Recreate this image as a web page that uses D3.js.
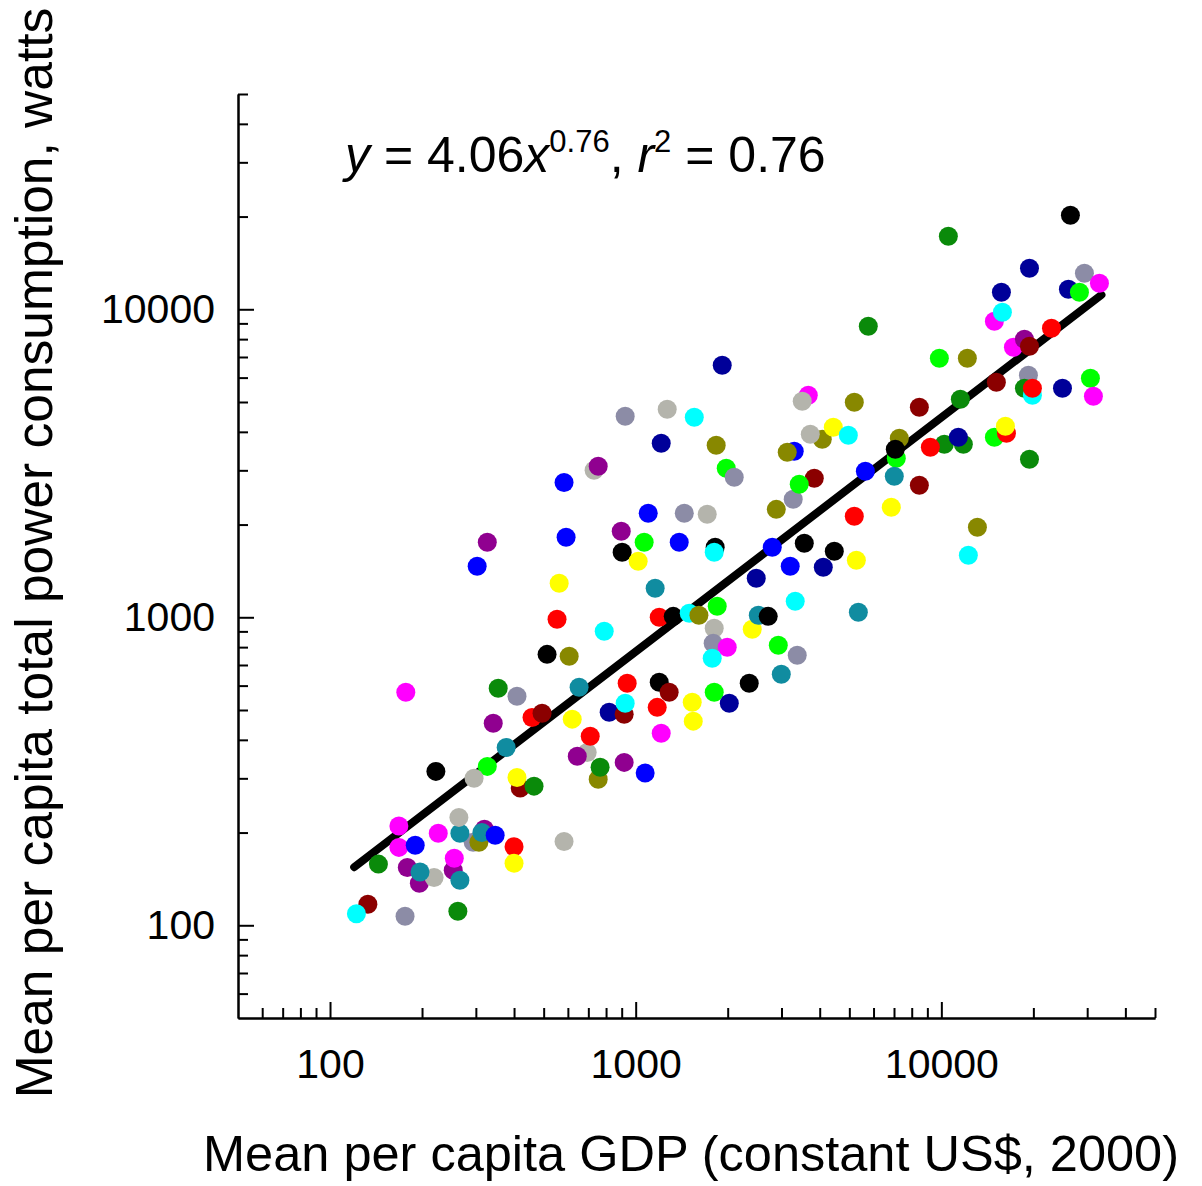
<!DOCTYPE html>
<html>
<head>
<meta charset="utf-8">
<script src="https://cdn.jsdelivr.net/npm/d3@7"></script>
<style>
  body { margin: 0; background: #fff; }
  text { font-family: "Liberation Sans", Arial, sans-serif; }
</style>
</head>
<body>
<div id="chart"></div>
<script>
// colour of each country group
const palette = {
  red: "#ff0000", darkred: "#8b0000", green: "#0a8a0a", lime: "#00ff00",
  blue: "#0000ff", navy: "#000099", cyan: "#00ffff", magenta: "#ff00ff",
  purple: "#900090", yellow: "#ffff00", olive: "#888800", teal: "#108ca0",
  black: "#000000", greyblue: "#8c8ca6", lightgrey: "#b4b4ac"
};

// mean per capita GDP (constant US$, 2000), in drawing order
const gdp = [
  133, 122, 176, 262, 144, 179, 196, 219, 197, 253, 255, 266, 168, 190, 168, 226,
  294, 307, 320, 266, 314, 347, 400, 400, 264, 222, 327, 296, 419, 409, 465, 377,
  342, 458, 494, 177, 355, 409, 583,
  513, 606, 653, 620, 553, 789, 562, 1194, 1327, 1497, 1610, 1158, 938, 1194, 1287, 819,
  917, 924, 1176, 1531, 1543, 1212, 694, 644, 710, 917, 754, 765, 1074, 303, 327, 583,
  592, 897, 1066, 903, 1019, 1388, 1099, 1442, 1714, 731, 754, 924, 1268, 1555, 1212, 1834,
  1978, 2101, 1919, 1820, 1807, 1848, 1807, 1793, 1993, 1780, 1807, 2024, 2352, 2406, 2518, 2714,
  2480, 3326, 2928, 3377, 2995,
  3670, 3507, 5191, 4078, 3726, 4431, 4962, 3301, 3132, 3276, 3840, 3428, 2884, 5641, 5191, 2798,
  3561, 4465, 5271, 3203, 4109, 5351,
  5768, 9851, 12164, 8472, 11540, 15136, 7286, 7123, 7069, 7015, 8472, 6858, 10227, 11804, 11366, 9204,
  14911, 16330, 16200, 19420, 13120, 12256, 10541, 26440, 19420, 15720, 14911, 15840, 29380, 26040, 28300, 32900,
  22920, 17210, 18700, 19420, 19270, 18700, 19860, 19860, 24900, 30740, 31440
];

// mean per capita total power consumption, watts
const watts = [
  117, 109, 107, 111, 158, 154, 137, 143, 149, 151, 165, 140, 179, 182, 210, 199,
  186, 186, 205, 199, 200, 196, 180, 159, 224, 316, 328, 300, 279, 302, 283, 378,
  453, 473, 488, 571, 588, 554, 187,
  758, 747, 593, 467, 985, 901, 1290, 1000, 1007, 1030, 1015, 1243, 611, 615, 571, 492,
  484, 526, 510, 530, 460, 420, 364, 354, 411, 338, 298, 326, 312, 1464, 1752, 2740,
  1818, 1902, 1752, 1626, 1520, 1752, 2176, 2176, 2160, 3001, 3092, 4494, 4735, 4461, 3671, 3617,
  3046, 2849, 6579, 1688, 1626, 1086, 921, 823, 799, 736, 571, 526, 611, 914, 1015, 1007,
  1338, 1127, 811, 753, 653,
  5258, 5027, 4990, 3784, 3928, 4140, 3898, 3459, 3433, 2416, 2828, 2703, 2241, 2979, 2128, 1688,
  1739, 1638, 1531, 1464, 1453, 1038,
  8807, 6932, 6932, 4806, 5103, 5794, 3812, 3282, 3511, 2870, 2683, 2275, 3644, 3644, 3840, 3563,
  3840, 3957, 4170, 3258, 1960, 1590, 17260, 20200, 13590, 11360, 9141, 9780, 13090, 11610, 11360, 12150,
  8676, 7527, 7990, 7585, 6106, 5541, 5258, 5541, 5541, 5970, 5219
];

// colour group of each point
const group = [
  "darkred", "cyan", "greyblue", "green", "green", "purple", "purple", "lightgrey", "teal", "purple", "magenta", "teal", "magenta", "blue", "magenta", "magenta",
  "greyblue", "olive", "purple", "teal", "teal", "blue", "red", "yellow", "lightgrey", "black", "lime", "lightgrey", "darkred", "yellow", "green", "teal",
  "purple", "red", "darkred", "magenta", "green", "greyblue", "lightgrey",
  "black", "olive", "teal", "yellow", "red", "cyan", "yellow", "red", "black", "cyan", "olive", "teal", "red", "black", "darkred", "navy",
  "darkred", "cyan", "red", "yellow", "yellow", "magenta", "lightgrey", "purple", "red", "purple", "olive", "green", "blue", "blue", "purple", "blue",
  "blue", "purple", "lime", "black", "yellow", "blue", "blue", "greyblue", "lightgrey", "lightgrey", "purple", "greyblue", "lightgrey", "cyan", "navy", "olive",
  "lime", "greyblue", "navy", "black", "cyan", "lime", "lightgrey", "greyblue", "magenta", "cyan", "lime", "navy", "black", "yellow", "teal", "black",
  "navy", "cyan", "lime", "greyblue", "teal",
  "magenta", "lightgrey", "olive", "olive", "lightgrey", "yellow", "cyan", "blue", "olive", "greyblue", "darkred", "lime", "olive", "blue", "red", "blue",
  "black", "black", "yellow", "blue", "navy", "teal",
  "green", "lime", "olive", "darkred", "green", "darkred", "olive", "lime", "black", "teal", "darkred", "yellow", "green", "green", "navy", "red",
  "lime", "red", "yellow", "green", "olive", "cyan", "green", "black", "navy", "navy", "magenta", "cyan", "greyblue", "navy", "lime", "magenta",
  "red", "magenta", "purple", "darkred", "greyblue", "green", "cyan", "red", "navy", "lime", "magenta"
];

// power-law fit y = a x^b and the GDP span it is drawn over
const fitA = 4.06;
const fitB = 0.76;
const fitSpan = [120, 33400];

const majorTicks = [100, 1000, 10000];
const minorTicks = [60, 70, 80, 90, 200, 300, 400, 500, 600, 700, 800, 900,
  2000, 3000, 4000, 5000, 6000, 7000, 8000, 9000, 20000, 30000, 40000, 50000];

const width = 1202;
const height = 1186;
const plotLeft = 238, plotRight = 1155, plotTop = 94, plotBottom = 1018;

const svg = d3.select("#chart")
  .append("svg")
  .attr("width", width)
  .attr("height", height);

const x = d3.scaleLog().domain([50, 50000]).range([plotLeft, plotRight]);
const y = d3.scaleLog().domain([50, 50000]).range([plotBottom, plotTop]);

// fit line goes under the dots
const fitLine = d3.line()
  .x(d => x(d))
  .y(d => y(fitA * Math.pow(d, fitB)));

svg.append("path")
  .datum(fitSpan)
  .attr("d", fitLine)
  .style("fill", "none")
  .style("stroke", "#000")
  .style("stroke-width", 8)
  .style("stroke-linecap", "round");

// dots
svg.append("g")
  .selectAll("circle")
  .data(gdp)
  .join("circle")
  .attr("cx", d => x(d))
  .attr("cy", (d, i) => y(watts[i]))
  .attr("r", 9.5)
  .style("fill", (d, i) => palette[group[i]]);

// axes, ticks point inwards
const styleAxis = (g) => {
  g.selectAll("path, line").style("stroke", "#000").style("stroke-width", 2);
  g.selectAll("text").style("font-size", "41px").style("fill", "#000")
    .style("font-family", "'Liberation Sans', Arial, sans-serif");
};

svg.append("g")
  .attr("transform", `translate(0,${plotBottom})`)
  .call(d3.axisBottom(x).tickValues(minorTicks).tickFormat("").tickSizeInner(-10).tickSizeOuter(0))
  .call(styleAxis);

svg.append("g")
  .attr("transform", `translate(0,${plotBottom})`)
  .call(d3.axisBottom(x).tickValues(majorTicks).tickFormat(d3.format("d")).tickSizeInner(-16).tickSizeOuter(0).tickPadding(31))
  .call(styleAxis);

svg.append("g")
  .attr("transform", `translate(${plotLeft},0)`)
  .call(d3.axisLeft(y).tickValues(minorTicks).tickFormat("").tickSizeInner(-10).tickSizeOuter(0))
  .call(styleAxis);

svg.append("g")
  .attr("transform", `translate(${plotLeft},0)`)
  .call(d3.axisLeft(y).tickValues(majorTicks).tickFormat(d3.format("d")).tickSizeInner(-16).tickSizeOuter(0).tickPadding(23))
  .call(styleAxis);

// axis titles
svg.append("text")
  .attr("x", 691)
  .attr("y", 1171)
  .attr("text-anchor", "middle")
  .style("font-size", "50.5px")
  .text("Mean per capita GDP (constant US$, 2000)");

svg.append("text")
  .attr("transform", "translate(52,553) rotate(-90)")
  .attr("text-anchor", "middle")
  .style("font-size", "51.5px")
  .text("Mean per capita total power consumption, watts");

// fit equation
const eq = svg.append("text")
  .attr("x", 345)
  .attr("y", 172)
  .style("font-size", "50px");
eq.append("tspan").style("font-style", "italic").text("y");
eq.append("tspan").text(" = 4.06");
eq.append("tspan").style("font-style", "italic").text("x");
eq.append("tspan").attr("dy", -20).style("font-size", "31px").text("0.76");
eq.append("tspan").attr("dy", 20).text(", ");
eq.append("tspan").style("font-style", "italic").text("r");
eq.append("tspan").attr("dy", -20).style("font-size", "31px").text("2");
eq.append("tspan").attr("dy", 20).text(" = 0.76");
</script>
</body>
</html>
